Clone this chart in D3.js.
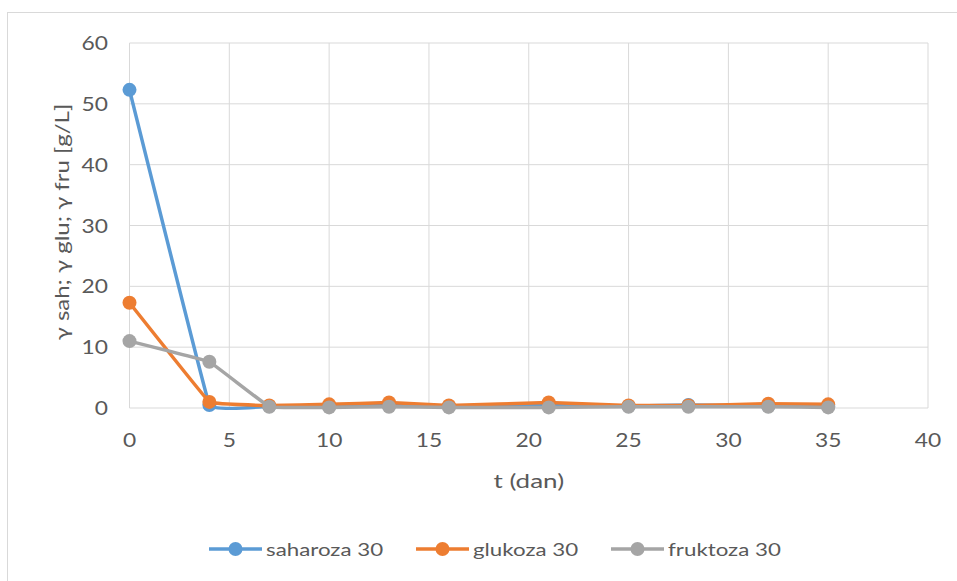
<!DOCTYPE html>
<html>
<head>
<meta charset="utf-8">
<script src="https://cdn.jsdelivr.net/npm/d3@7"></script>
<style>
  body { margin: 0; background: #fff; }
  text { font-family: Lato, "Open Sans", sans-serif; fill: #595959; }
</style>
</head>
<body>
<svg id="chart" width="957" height="581"></svg>
<script>
// data
var days = [0, 4, 7, 10, 13, 16, 21, 25, 28, 32, 35];
var saharoza = [52.3, 0.5, 0.3, 0.3, 0.4, 0.3, 0.4, 0.3, 0.5, 0.3, 0.3];
var glukoza = [17.3, 1.0, 0.4, 0.6, 0.9, 0.4, 0.9, 0.4, 0.4, 0.7, 0.6];
var fruktoza = [11.0, 7.6, 0.2, 0.1, 0.2, 0.1, 0.1, 0.2, 0.2, 0.2, 0.1];
var seriesNames = ["saharoza 30", "glukoza 30", "fruktoza 30"];
var colors = ["#5b9bd5", "#ed7d31", "#a5a5a5"];
var xTicks = [0, 5, 10, 15, 20, 25, 30, 35, 40];
var yTicks = [0, 10, 20, 30, 40, 50, 60];

var svg = d3.select("#chart");
var sx = 1.2; // tekst je malo širi

// okvir
svg.append("rect")
  .attr("x", 7.5).attr("y", 12.5)
  .attr("width", 960).attr("height", 580)
  .attr("fill", "none")
  .attr("stroke", "#d9d9d9");

var x = d3.scaleLinear().domain([0, 40]).range([129.5, 928]);
var y = d3.scaleLinear().domain([0, 60]).range([408, 43]);

// mreža
svg.append("g").selectAll("line").data(xTicks).join("line")
  .attr("x1", d => x(d)).attr("x2", d => x(d))
  .attr("y1", y(60)).attr("y2", y(0))
  .attr("stroke", "#d9d9d9").attr("stroke-width", 1);

svg.append("g").selectAll("line").data(yTicks).join("line")
  .attr("x1", x(0)).attr("x2", x(40))
  .attr("y1", d => y(d)).attr("y2", d => y(d))
  .attr("stroke", "#d9d9d9").attr("stroke-width", 1);

// oznake osi
svg.append("g").selectAll("text").data(xTicks).join("text")
  .attr("transform", d => "translate(" + x(d) + ",447) scale(" + sx + ",1)")
  .attr("text-anchor", "middle")
  .attr("font-size", 19)
  .text(d => d);

svg.append("g").selectAll("text").data(yTicks).join("text")
  .attr("transform", d => "translate(108," + (y(d) + 7) + ") scale(" + sx + ",1)")
  .attr("text-anchor", "end")
  .attr("font-size", 19)
  .text(d => d);

svg.append("text")
  .attr("transform", "translate(" + x(20) + ",488) scale(1.3,1)")
  .attr("text-anchor", "middle")
  .attr("font-size", 20)
  .text("t (dan)");

svg.append("text")
  .attr("transform", "translate(69,222) rotate(-90) scale(1.2,1)")
  .attr("text-anchor", "middle")
  .attr("font-size", 20)
  .text("γ sah; γ glu; γ fru [g/L]");

// linije
var allSeries = [saharoza, glukoza, fruktoza];
var line = d3.line()
  .x((d, i) => x(days[i]))
  .y(d => y(d))
  .curve(d3.curveCardinal.tension(0.87));

allSeries.forEach(function (vals, k) {
  var g = svg.append("g");
  g.append("path")
    .attr("d", line(vals))
    .attr("fill", "none")
    .attr("stroke", colors[k])
    .attr("stroke-width", 3.5)
    .attr("stroke-linejoin", "round");
  g.selectAll("circle").data(vals).join("circle")
    .attr("cx", (d, i) => x(days[i]))
    .attr("cy", d => y(d))
    .attr("r", 7)
    .attr("fill", colors[k]);
});

// legenda
var legendX = [209, 416, 611];
seriesNames.forEach(function (name, k) {
  var lg = svg.append("g").attr("transform", "translate(" + legendX[k] + ",549)");
  lg.append("line")
    .attr("x1", 0).attr("x2", 53).attr("y1", 0).attr("y2", 0)
    .attr("stroke", colors[k]).attr("stroke-width", 3.5);
  lg.append("circle").attr("cx", 26.5).attr("cy", 0).attr("r", 7).attr("fill", colors[k]);
  lg.append("text")
    .attr("transform", "translate(57,7) scale(1.24,1)")
    .attr("font-size", 18)
    .text(name);
});
</script>
</body>
</html>
